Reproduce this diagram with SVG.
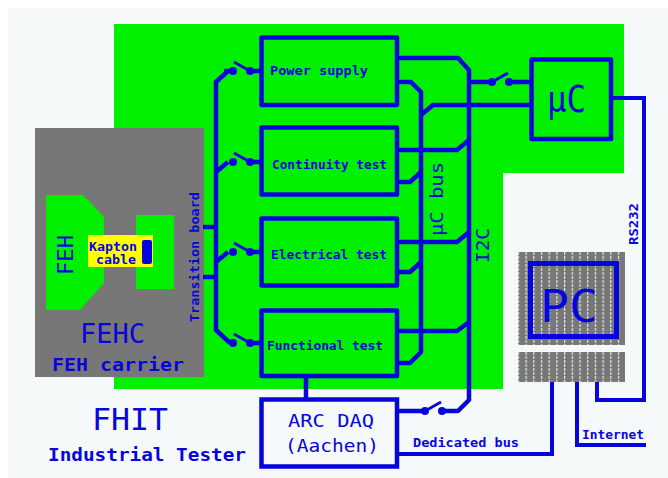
<svg xmlns="http://www.w3.org/2000/svg" width="668" height="478" viewBox="0 0 668 478">
<style>
.w{fill:none;stroke:#0606dc;stroke-width:4.5;stroke-linejoin:round}
.t{fill:none;stroke:#0606dc;stroke-width:4;stroke-linejoin:miter}
.b{fill:none;stroke:#0606dc;stroke-width:4.5;stroke-linejoin:round}
.d{fill:#0606dc}
text{fill:#0606dc;font-family:"DejaVu Sans Mono","Liberation Mono",monospace}
.s{font-size:12px;font-weight:bold}
.l{font-weight:normal}
</style>
<defs>
<pattern id="dots" x="525.5" y="252" width="7.7" height="4" patternUnits="userSpaceOnUse"><rect x="0" y="0" width="1.2" height="3" fill="#dfe6df"/></pattern>
<g id="sw"><circle cx="-9" cy="0" r="4" class="d"/><circle cx="8" cy="0" r="4" class="d"/><path d="M-8-9L8 0" stroke="#0606dc" stroke-width="2.8" fill="none"/></g>
</defs>
<rect width="668" height="478" fill="#ffffff"/>
<rect x="8" y="8" width="660" height="470" fill="#f6f9f9"/>
<path id="board" d="M114 24H624V173H503V389H114Z" fill="#00f000"/>
<g id="fehc">
<rect x="35" y="128" width="169" height="249" fill="#777777"/>
<path d="M46 195H83L104 217V283L80 310H46Z" fill="#00f000"/>
<rect x="136" y="215" width="38" height="74" fill="#00f000"/>
<rect x="88" y="235" width="65" height="32" fill="#ffff00"/>
<rect x="142" y="240" width="10" height="24" rx="2" class="d"/>
<text transform="translate(73 275) rotate(-90)" font-size="22" textLength="40" lengthAdjust="spacingAndGlyphs">FEH</text>
<text class="s" x="89" y="251" textLength="48" lengthAdjust="spacingAndGlyphs">Kapton</text>
<text class="s" x="96" y="264" textLength="40" lengthAdjust="spacingAndGlyphs">cable</text>
<text x="80" y="343" font-size="26" textLength="65" lengthAdjust="spacingAndGlyphs">FEHC</text>
<text x="52" y="371" font-size="17" font-weight="bold" textLength="132" lengthAdjust="spacingAndGlyphs">FEH carrier</text>
<text class="s" transform="translate(199 322) rotate(-90)" font-weight="normal" textLength="130" lengthAdjust="spacingAndGlyphs">Transition board</text>
</g>
<g id="connectors">
<path class="w" d="M228 71L216 82V330L230 343M203 227H216M203 277H216M216 172L228 162M216 262L228 252"/>
<path class="w" d="M234 71H224M250 71H261M250 162H261M250 252H261M250 343H261"/>
<use href="#sw" x="242" y="71"/><use href="#sw" x="242" y="162"/><use href="#sw" x="242" y="252"/><use href="#sw" x="242" y="343"/>
<path class="w" d="M397 58H458L469 70V400L458 411H443M397 150H457L469 140M397 242H457L469 232M397 331H457L469 322"/>
<path class="w" d="M397 82H411L421 92V352L410 363H397M397 182H410L421 172M397 272H410L421 262M421 115L433 105H530"/>
<path class="w" d="M469 82H491M509 82H530M397 411H423"/>
<use href="#sw" x="500" y="82" transform="translate(1000 0) scale(-1 1)"/>
<g transform="translate(433 411) scale(-1 1)"><use href="#sw"/></g>
<path class="w" d="M306 376V400"/>
<path class="t" d="M397 454H552V380M577 380V445H646M597 380V400H644V98H611"/>
<text class="l" transform="translate(443 236) rotate(-90)" font-size="18" textLength="74" lengthAdjust="spacingAndGlyphs">μC bus</text>
<text class="l" transform="translate(489 263) rotate(-90)" font-size="18" textLength="35" lengthAdjust="spacingAndGlyphs">I2C</text>
<text class="s" x="413" y="447" textLength="106" lengthAdjust="spacingAndGlyphs">Dedicated bus</text>
<text class="s" x="582" y="439" font-weight="normal" textLength="62" lengthAdjust="spacingAndGlyphs">Internet</text>
<text class="s" transform="translate(638 245) rotate(-90)" textLength="42" lengthAdjust="spacingAndGlyphs">RS232</text>
</g>
<g id="power-supply"><rect class="b" x="261.5" y="37.5" width="135.5" height="67.5"/><text class="s" x="270" y="75" font-weight="normal" textLength="98" lengthAdjust="spacingAndGlyphs">Power supply</text></g>
<g id="continuity-test"><rect class="b" x="261.5" y="127.5" width="135.5" height="67"/><text class="s" x="272" y="169" textLength="115" lengthAdjust="spacingAndGlyphs">Continuity test</text></g>
<g id="electrical-test"><rect class="b" x="261.5" y="218.5" width="135.5" height="67"/><text class="s" x="271" y="259" textLength="116" lengthAdjust="spacingAndGlyphs">Electrical test</text></g>
<g id="functional-test"><rect class="b" x="261.5" y="310.5" width="135.5" height="65.5"/><text class="s" x="267" y="350" textLength="116" lengthAdjust="spacingAndGlyphs">Functional test</text></g>
<g id="arc-daq"><rect x="261.5" y="399.5" width="135.5" height="67" fill="#f6f9f9" stroke="#0606dc" stroke-width="4.5"/><text x="288" y="427" font-size="17" textLength="86" lengthAdjust="spacingAndGlyphs">ARC DAQ</text><text x="285" y="452" font-size="17" textLength="94" lengthAdjust="spacingAndGlyphs">(Aachen)</text></g>
<g id="uc"><rect class="b" x="531.5" y="59.5" width="79.5" height="79.5"/><text x="547" y="112" font-size="38" textLength="39" lengthAdjust="spacingAndGlyphs">μC</text></g>
<g id="pc">
<rect x="518" y="252" width="107" height="93" fill="#777777"/><rect x="518" y="252" width="107" height="93" fill="url(#dots)"/>
<rect x="518" y="352" width="107" height="30" fill="#777777"/><rect x="518" y="352" width="107" height="30" fill="url(#dots)"/>
<path d="M530.5 263.5H616.5V336.5H530.5Z" fill="none" stroke="#0606dc" stroke-width="5"/>
<text x="540" y="322" font-size="44" textLength="58" lengthAdjust="spacingAndGlyphs">PC</text>
</g>
<g id="title">
<text x="92" y="430" font-size="30" textLength="76" lengthAdjust="spacingAndGlyphs">FHIT</text>
<text x="48" y="461" font-size="17" font-weight="bold" textLength="198" lengthAdjust="spacingAndGlyphs">Industrial Tester</text>
</g>
</svg>
